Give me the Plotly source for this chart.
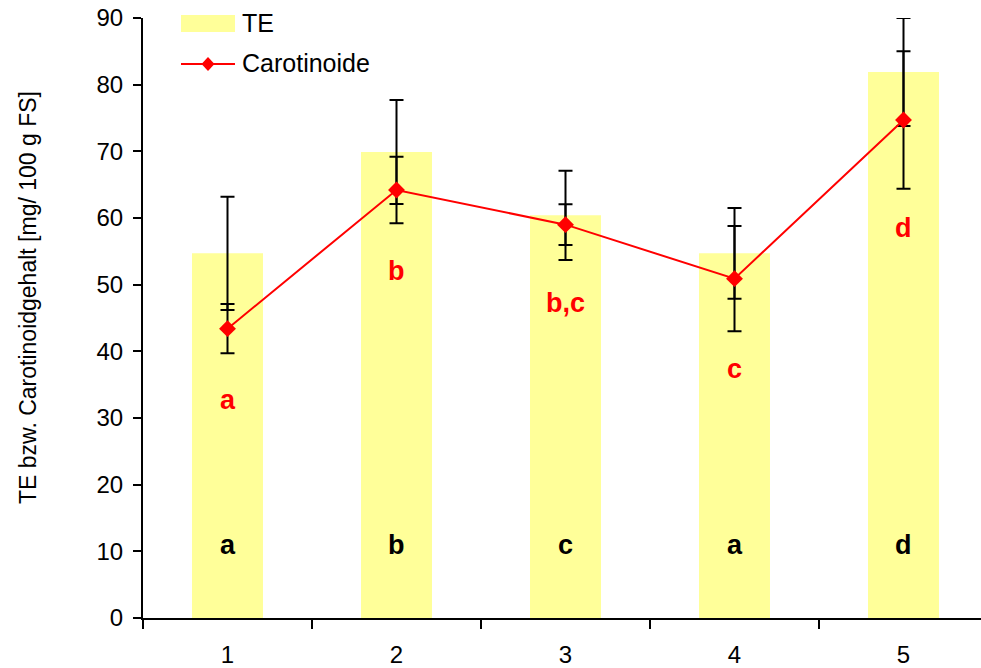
import plotly.graph_objects as go

# ---------------- data ----------------
categories = ["1", "2", "3", "4", "5"]
te_values = [54.7, 69.9, 60.4, 54.7, 81.9]
te_err = [8.5, 7.8, 6.7, 6.8, 8.1]
car_values = [43.4, 64.2, 59.0, 50.9, 74.7]
car_err = [3.7, 5.0, 3.05, 7.9, 10.3]
te_letters = ["a", "b", "c", "a", "d"]
car_letters = ["a", "b", "b,c", "c", "d"]
te_letter_y = [10.9, 10.9, 10.9, 10.9, 10.9]
car_letter_y = [32.7, 52.0, 47.3, 37.3, 58.5]
y_ticks = [0, 10, 20, 30, 40, 50, 60, 70, 80, 90]

FONT = "Liberation Sans, Arial, sans-serif"
YELLOW = "#FFFF99"
RED = "#FF0000"

fig = go.Figure()

fig.add_trace(go.Bar(
    x=categories, y=te_values, name="TE",
    marker=dict(color=YELLOW, line=dict(width=0)),
    width=0.42,
    error_y=dict(type="data", array=te_err, visible=True,
                 color="black", thickness=2, width=7),
    showlegend=False,
))

fig.add_trace(go.Scatter(
    x=categories, y=car_values, name="Carotinoide",
    mode="lines+markers",
    line=dict(color=RED, width=2),
    marker=dict(symbol="diamond", size=13, color=RED),
    error_y=dict(type="data", array=car_err, visible=True,
                 color="black", thickness=2, width=7),
    showlegend=False,
))

annotations = []
for i, (t, y) in enumerate(zip(te_letters, te_letter_y)):
    annotations.append(dict(x=i, y=y, xref="x", yref="y", text=t, showarrow=False,
                            font=dict(family=FONT, size=27, color="black", weight="bold"),
                            xanchor="center", yanchor="middle"))
for i, (t, y) in enumerate(zip(car_letters, car_letter_y)):
    annotations.append(dict(x=i, y=y, xref="x", yref="y", text=t, showarrow=False,
                            font=dict(family=FONT, size=27, color=RED, weight="bold"),
                            xanchor="center", yanchor="middle"))


# manual legend (paper coords; plot area = 838 x 600 px starting at x=143, y=18)
def px_x(p):
    return (p - 143) / 838.0


def px_y(p):
    return (618 - p) / 600.0


# y-axis title
annotations.append(dict(x=px_x(28), y=px_y(298), xref="paper", yref="paper",
                        text="TE bzw. Carotinoidgehalt [mg/ 100 g FS]",
                        showarrow=False, textangle=-90, xanchor="center", yanchor="middle",
                        font=dict(family=FONT, size=23, color="black")))

annotations.append(dict(x=px_x(240), y=px_y(23), xref="paper", yref="paper", text="TE",
                        showarrow=False, xanchor="left", yanchor="middle",
                        font=dict(family=FONT, size=25, color="black")))
annotations.append(dict(x=px_x(240), y=px_y(63), xref="paper", yref="paper", text="Carotinoide",
                        showarrow=False, xanchor="left", yanchor="middle",
                        font=dict(family=FONT, size=25, color="black")))

shapes = [
    dict(type="rect", xref="paper", yref="paper",
         x0=px_x(181), x1=px_x(235), y0=px_y(32), y1=px_y(15),
         fillcolor=YELLOW, line=dict(width=0), layer="above"),
    dict(type="line", xref="paper", yref="paper",
         x0=px_x(181), x1=px_x(235), y0=px_y(64), y1=px_y(64),
         line=dict(color=RED, width=2), layer="above"),
    dict(type="path", xref="paper", yref="paper", xsizemode="pixel", ysizemode="pixel",
         xanchor=px_x(208), yanchor=px_y(64),
         path="M0,7 L6.5,0 L0,-7 L-6.5,0 Z",
         fillcolor=RED, line=dict(color=RED, width=0), layer="above"),
]

fig.update_layout(
    width=981, height=668,
    margin=dict(l=143, r=0, t=18, b=50),
    paper_bgcolor="white", plot_bgcolor="white",
    font=dict(family=FONT, size=24, color="black"),
    showlegend=False,
    annotations=annotations,
    shapes=shapes,
    xaxis=dict(
        type="category", range=[-0.5, -0.5 + 838 / 169.0],
        showline=True, linecolor="black", linewidth=2,
        ticks="outside", tickson="boundaries", ticklen=9, tickwidth=2, tickcolor="black",
        showgrid=False, zeroline=False,
        tickfont=dict(family=FONT, size=24, color="black"),
        ticklabelstandoff=14,
    ),
    yaxis=dict(
        range=[0, 90], tickvals=y_ticks,
        showline=True, linecolor="black", linewidth=2,
        ticks="outside", ticklen=8, tickwidth=2, tickcolor="black",
        showgrid=False, zeroline=False,
        tickfont=dict(family=FONT, size=24, color="black"),
        ticklabelstandoff=5,
    ),
)

fig.write_html("out.html")
